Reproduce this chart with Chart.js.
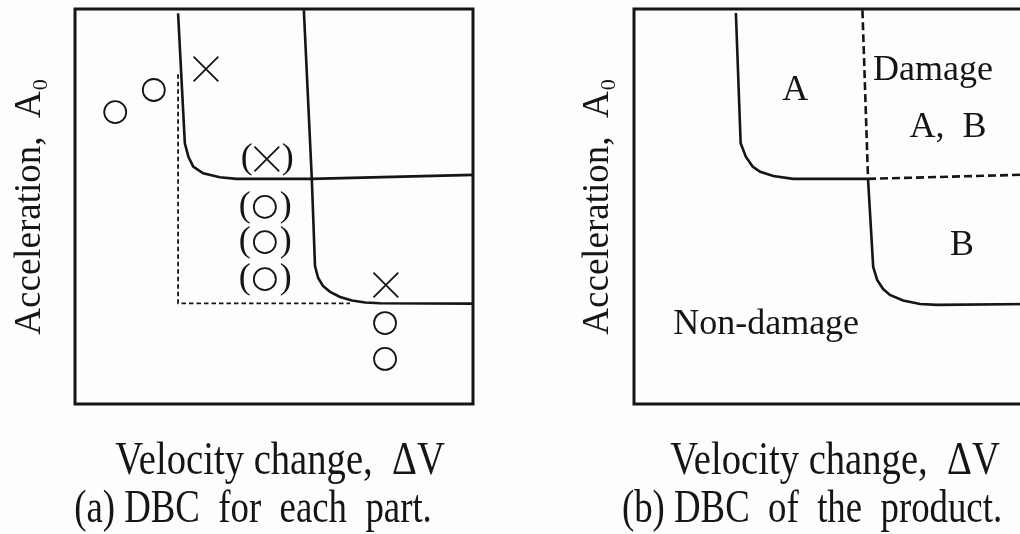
<!DOCTYPE html>
<html>
<head>
<meta charset="utf-8">
<script src="https://cdn.jsdelivr.net/npm/chart.js@4/dist/chart.umd.min.js"></script>
<style>
  html, body { margin: 0; padding: 0; background: #fdfdfd; overflow: hidden; }
  #wrap { position: relative; width: 1020px; height: 534px; overflow: hidden; background: #fdfdfd; }
  canvas { position: absolute; top: 0; }
  #panelA { left: 0; }
  #panelB { left: 550px; }
</style>
</head>
<body>
<div id="wrap">
  <canvas id="panelA" width="520" height="534"></canvas>
  <canvas id="panelB" width="482" height="534"></canvas>
</div>
<script>
// ---- axis text ----
const yAxisTitle = 'Acceleration,  A\u2080';
const xAxisTitle = 'Velocity change,  \u0394V';
const captionA = '(a) DBC  for  each  part.';
const captionB = '(b) DBC  of  the  product.';

// ---- panel (a): damage boundary curve of each part (axes in % of full range) ----
const partAX = [25.9, 27.6, 28.5, 29.7, 32.2, 36.4, 40.6, 59.5, 100];
const partAY = [98.9, 66.0, 62.6, 60.1, 58.4, 57.4, 57.0, 57.0, 58.0];
const partBX = [57.5, 59.5, 60.3, 61.1, 62.3, 64.1, 66.6, 69.6, 72.9, 76.6, 100];
const partBY = [99.7, 57.0, 34.9, 31.9, 29.9, 28.4, 27.1, 26.2, 25.7, 25.5, 25.4];
// product boundary seen from panel (a): the common corner of both parts
const cornerX = [25.9, 25.9, 69.1];
const cornerY = [83.5, 25.5, 25.5];

// test results: damage (x) and no damage (o); bracketed ones are inferred
const damageX = [32.9, 78.1];
const damageY = [84.8, 30.1];
const safeX = [10.1, 19.8, 77.9, 77.9];
const safeY = [73.9, 79.5, 20.5, 11.4];
const inferredDamageX = [48.2];
const inferredDamageY = [62.0];
const inferredSafeX = [47.7, 47.7, 47.7];
const inferredSafeY = [49.9, 41.0, 31.6];

// ---- panel (b): damage boundary curve of the product ----
const prodAX = [25.6, 26.8, 28.1, 29.8, 31.7, 35.0, 40.0, 58.8];
const prodAY = [99.0, 66.0, 62.6, 60.1, 58.8, 57.7, 57.0, 57.0];
const prodBX = [58.8, 60.1, 61.1, 62.6, 64.3, 67.6, 71.9, 76.1, 100];
const prodBY = [57.0, 34.7, 31.4, 29.1, 27.6, 26.2, 25.3, 25.1, 25.3];
const splitVX = [57.4, 58.8];
const splitVY = [99.7, 57.0];
const splitHX = [58.8, 100];
const splitHY = [57.0, 58.1];

// region names of panel (b)
const regionText = ['A', 'Damage', 'A,  B', 'B', 'Non-damage'];
const regionX = [40.5, 75.1, 78.9, 82.4, 33.2];
const regionY = [79.4, 84.3, 70.1, 40.0, 20.0];

const SERIF = "'Liberation Serif', 'Times New Roman', Times, serif";
const INK = '#151515';

const pts = (xs, ys) => xs.map((x, i) => ({ x, y: ys[i] }));

function curve(xs, ys, dash, width) {
  return {
    type: 'line', data: pts(xs, ys), borderColor: INK,
    borderWidth: width || 2.6, borderDash: dash || [],
    pointRadius: 0, tension: 0, fill: false
  };
}
function marks(xs, ys, style, radius, bracketed) {
  return {
    type: 'scatter', data: pts(xs, ys), pointStyle: style, pointRadius: radius,
    pointBorderWidth: 1.8, pointBorderColor: INK, pointBackgroundColor: 'rgba(0,0,0,0)',
    bracketed: !!bracketed
  };
}

// box around the plotting area
const framePlugin = {
  id: 'frame',
  afterDraw(chart) {
    const { ctx, chartArea: a } = chart;
    ctx.save();
    ctx.strokeStyle = INK;
    ctx.lineWidth = 3;
    ctx.strokeRect(a.left, a.top, a.right - a.left, a.bottom - a.top);
    ctx.restore();
  }
};

// parentheses around inferred results
const bracketPlugin = {
  id: 'brackets',
  afterDatasetsDraw(chart) {
    const { ctx } = chart;
    ctx.save();
    ctx.fillStyle = INK;
    ctx.font = '36px ' + SERIF;
    ctx.textAlign = 'center';
    ctx.textBaseline = 'alphabetic';
    chart.data.datasets.forEach((ds, i) => {
      if (!ds.bracketed) return;
      chart.getDatasetMeta(i).data.forEach(el => {
        ctx.fillText('(', el.x - 20, el.y + 9);
        ctx.fillText(')', el.x + 21, el.y + 9);
      });
    });
    ctx.restore();
  }
};

// region names placed in data coordinates
const regionPlugin = {
  id: 'regions',
  afterDatasetsDraw(chart, args, opts) {
    if (!opts.text) return;
    const { ctx, scales: { x, y } } = chart;
    ctx.save();
    ctx.fillStyle = INK;
    ctx.font = '36px ' + SERIF;
    ctx.textAlign = 'center';
    ctx.textBaseline = 'middle';
    opts.text.forEach((t, i) => {
      ctx.fillText(t, x.getPixelForValue(opts.x[i]), y.getPixelForValue(opts.y[i]));
    });
    ctx.restore();
  }
};

// x-axis name and panel caption under the box, set in a narrow serif face
const footerPlugin = {
  id: 'footer',
  afterDraw(chart, args, opts) {
    if (!opts.lines) return;
    const { ctx, chartArea: a } = chart;
    const cx = (a.left + a.right) / 2;
    ctx.save();
    ctx.fillStyle = INK;
    ctx.font = '46px ' + SERIF;
    ctx.textAlign = 'center';
    ctx.textBaseline = 'alphabetic';
    opts.lines.forEach(l => {
      ctx.save();
      ctx.translate(cx + l.dx, l.baseline);
      ctx.scale(l.squeeze, 1);
      ctx.fillText(l.text, 0, 0);
      ctx.restore();
    });
    ctx.restore();
  }
};

function panelOptions(cfg) {
  return {
    responsive: false,
    animation: false,
    events: [],
    layout: { autoPadding: false, padding: { top: 9, right: cfg.padRight, bottom: 0, left: 0 } },
    plugins: {
      legend: { display: false },
      tooltip: { enabled: false },
      regions: cfg.regions || {},
      footer: { lines: cfg.footer }
    },
    scales: {
      x: {
        type: 'linear', min: 0, max: 100, position: 'bottom',
        ticks: { display: false }, grid: { display: false, drawTicks: false },
        border: { display: false },
        title: { display: false },
        afterFit: s => { s.height = 130; }
      },
      y: {
        type: 'linear', min: 0, max: 100, position: 'left',
        ticks: { display: false }, grid: { display: false, drawTicks: false },
        border: { display: false },
        title: {
          display: true, text: yAxisTitle, color: INK,
          font: { family: SERIF, size: 37, lineHeight: 1.2 },
          padding: { top: cfg.yTitlePad, bottom: 0 }
        },
        afterFit: s => { s.width = cfg.yWidth; }
      }
    }
  };
}

new Chart(document.getElementById('panelA'), {
  type: 'scatter',
  data: {
    datasets: [
      curve(partAX, partAY),
      curve(partBX, partBY),
      curve(cornerX, cornerY, [4.5, 3], 1.8),
      marks(damageX, damageY, 'crossRot', 17.5),
      marks(safeX, safeY, 'circle', 11),
      marks(inferredDamageX, inferredDamageY, 'crossRot', 17.5, true),
      marks(inferredSafeX, inferredSafeY, 'circle', 11, true)
    ]
  },
  options: panelOptions({
    padRight: 47, yWidth: 75, yTitlePad: 7.8,
    footer: [
      { text: xAxisTitle, dx: 6, baseline: 474, squeeze: 0.84 },
      { text: captionA, dx: -21, baseline: 522, squeeze: 0.8 }
    ]
  }),
  plugins: [framePlugin, bracketPlugin, footerPlugin]
});

new Chart(document.getElementById('panelB'), {
  type: 'scatter',
  data: {
    datasets: [
      curve(prodAX, prodAY),
      curve(prodBX, prodBY),
      curve(splitVX, splitVY, [8, 4], 2.6),
      curve(splitHX, splitHY, [8, 4], 2.6)
    ]
  },
  options: panelOptions({
    padRight: 0, yWidth: 84, yTitlePad: 25.8,
    regions: { text: regionText, x: regionX, y: regionY },
    footer: [
      { text: xAxisTitle, dx: 2, baseline: 474, squeeze: 0.84 },
      { text: captionB, dx: -21, baseline: 522, squeeze: 0.8 }
    ]
  }),
  plugins: [framePlugin, regionPlugin, footerPlugin]
});
</script>
</body>
</html>
